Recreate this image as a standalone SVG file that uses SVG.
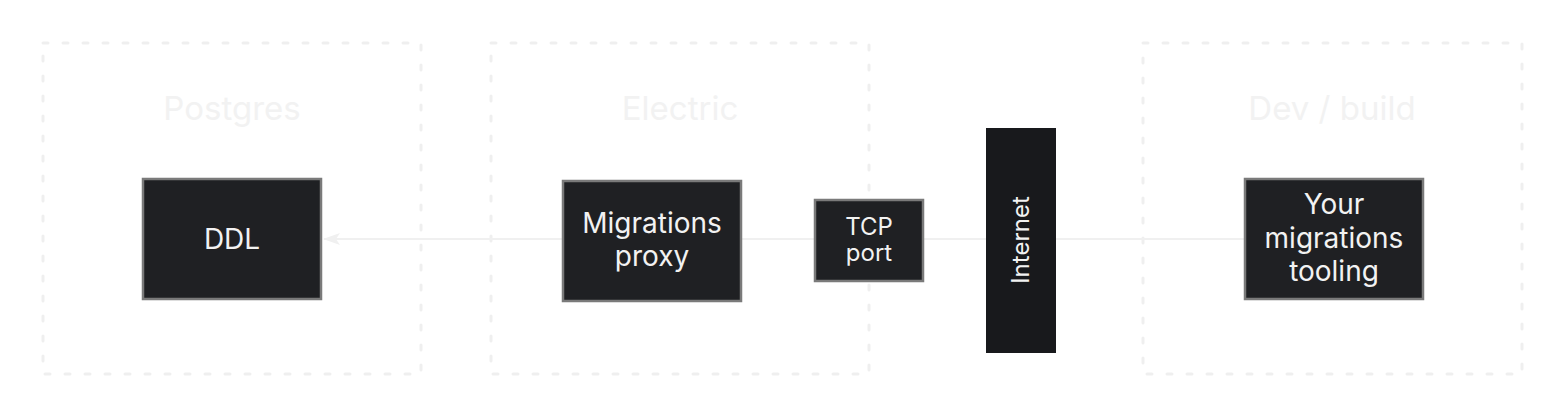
<svg xmlns="http://www.w3.org/2000/svg" width="1566" height="418" viewBox="0 0 1566 418">
<defs>
<style>
.group-box{fill:none;stroke:#efefef;stroke-width:3;stroke-dasharray:5 15;stroke-linecap:round}
.group-label{font-family:Inter,"Liberation Sans",sans-serif;font-size:33px;fill:#f2f2f2;text-anchor:middle}
.node{fill:#1f2023;stroke:#7a7a7a;stroke-width:2.5}
.node-text{font-family:Inter,"Liberation Sans",sans-serif;font-size:28px;fill:#f2f2f2;text-anchor:middle}
.small-text{font-family:Inter,"Liberation Sans",sans-serif;font-size:24px;fill:#f2f2f2;text-anchor:middle}
.edge{stroke:#f0f0f0;stroke-width:2;fill:none}
</style>
</defs>
<rect width="1566" height="418" fill="#ffffff"/>
<g id="group-postgres">
<rect class="group-box" x="43" y="43" width="378" height="331"/>
<text class="group-label" x="232" y="120">Postgres</text>
</g>
<g id="group-electric">
<rect class="group-box" x="491" y="43" width="378" height="331"/>
<text class="group-label" x="680" y="120">Electric</text>
</g>
<g id="group-dev">
<rect class="group-box" x="1143" y="43" width="379" height="331"/>
<text class="group-label" x="1332" y="120">Dev / build</text>
</g>
<g id="connectors">
<line class="edge" x1="1245" y1="239" x2="324" y2="239"/>
<path d="M323,239 L340,233 L336,239 L340,245 Z" fill="#f0f0f0"/>
</g>
<g id="node-ddl">
<rect class="node" x="143" y="179" width="178" height="120"/>
<text class="node-text" x="232" y="249">DDL</text>
</g>
<g id="node-proxy">
<rect class="node" x="563" y="181" width="178" height="120"/>
<text class="node-text" x="652" y="233">Migrations</text>
<text class="node-text" x="652" y="266">proxy</text>
</g>
<g id="node-tcp">
<rect class="node" x="815" y="200" width="108" height="81"/>
<text class="small-text" x="869" y="235">TCP</text>
<text class="small-text" x="869" y="261">port</text>
</g>
<g id="node-internet">
<rect x="986" y="128" width="70" height="225" fill="#18191c"/>
<text class="small-text" transform="translate(1029,240) rotate(-90)" x="0" y="0">Internet</text>
</g>
<g id="node-tooling">
<rect class="node" x="1245" y="179" width="178" height="120"/>
<text class="node-text" x="1334" y="214">Your</text>
<text class="node-text" x="1334" y="248">migrations</text>
<text class="node-text" x="1334" y="281">tooling</text>
</g>
</svg>
